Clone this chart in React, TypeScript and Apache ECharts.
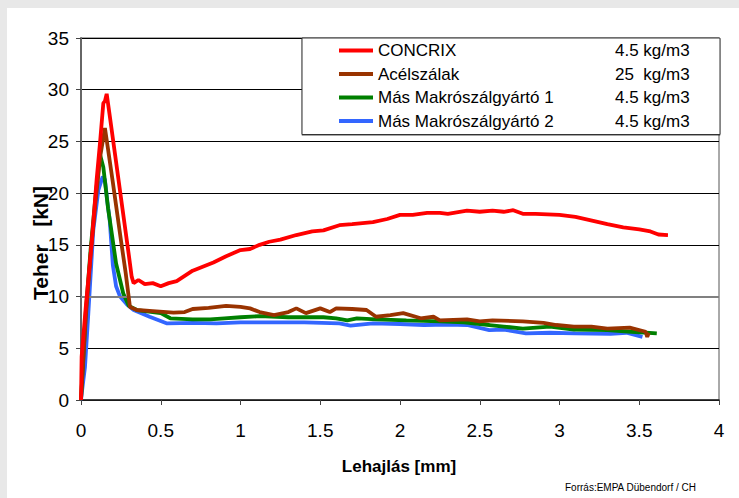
import React, { useEffect, useRef } from "react";
import * as echarts from "echarts";

const seriesNames = ["CONCRIX", "Acélszálak", "Más Makrószálgyártó 1", "Más Makrószálgyártó 2"];
const dosages = ["4.5 kg/m3", "25  kg/m3", "4.5 kg/m3", "4.5 kg/m3"];
const colors = ["#ff0000", "#993300", "#008000", "#3366ff"];
const xTicks = [0, 0.5, 1, 1.5, 2, 2.5, 3, 3.5, 4];
const yTicks = [0, 5, 10, 15, 20, 25, 30, 35];

const concrix: number[][] = [
  [0, 0], [0.004, 4.2], [0.03, 9], [0.067, 15.2], [0.098, 21.3], [0.12, 25], [0.14, 28.7], [0.15, 28.9],
  [0.161, 29.6], [0.18, 27.5], [0.22, 23], [0.26, 18.5], [0.3, 14], [0.318, 11.9], [0.33, 11.3], [0.36, 11.6],
  [0.4, 11.2], [0.45, 11.3], [0.5, 11.0], [0.55, 11.3], [0.6, 11.5], [0.65, 12.0], [0.7, 12.5], [0.83, 13.3],
  [0.91, 13.9], [1.0, 14.5], [1.06, 14.6], [1.12, 15.0], [1.18, 15.3], [1.25, 15.5], [1.35, 15.95], [1.45, 16.3],
  [1.52, 16.4], [1.62, 16.9], [1.7, 17.0], [1.83, 17.2], [1.92, 17.5], [2.0, 17.9], [2.08, 17.9], [2.17, 18.1],
  [2.25, 18.1], [2.3, 18.0], [2.42, 18.3], [2.5, 18.2], [2.58, 18.3], [2.65, 18.2], [2.71, 18.35], [2.77, 18.0],
  [2.85, 18.0], [3.0, 17.9], [3.1, 17.7], [3.19, 17.4], [3.3, 17.0], [3.4, 16.7], [3.5, 16.5], [3.57, 16.3],
  [3.62, 16.0], [3.68, 15.95],
];

const acelszalak: number[][] = [
  [0, 0], [0.03, 8], [0.06, 14], [0.09, 19], [0.12, 23.5], [0.15, 26.3], [0.17, 24.2], [0.2, 21], [0.25, 15.5],
  [0.28, 12.3], [0.307, 9.0], [0.35, 8.7], [0.45, 8.6], [0.58, 8.45], [0.65, 8.5], [0.7, 8.8], [0.8, 8.9],
  [0.91, 9.1], [1.0, 9.0], [1.06, 8.86], [1.12, 8.5], [1.21, 8.2], [1.3, 8.5], [1.35, 8.86], [1.41, 8.4],
  [1.5, 8.86], [1.56, 8.5], [1.6, 8.86], [1.7, 8.8], [1.79, 8.7], [1.85, 8.05], [1.94, 8.2], [2.02, 8.4],
  [2.13, 7.9], [2.21, 8.05], [2.25, 7.7], [2.42, 7.8], [2.5, 7.6], [2.58, 7.7], [2.77, 7.6], [2.9, 7.45],
  [2.98, 7.25], [3.09, 7.1], [3.2, 7.1], [3.3, 6.9], [3.44, 7.0], [3.54, 6.6], [3.55, 6.1], [3.56, 6.5],
];

const makro1: number[][] = [
  [0, 0], [0.03, 8.5], [0.06, 14.5], [0.09, 19.5], [0.12, 23.7], [0.14, 22.5], [0.17, 18.5], [0.19, 16.4],
  [0.22, 13.2], [0.265, 10.3], [0.3, 9.1], [0.35, 8.7], [0.5, 8.4], [0.56, 7.9], [0.7, 7.8], [0.81, 7.8],
  [0.9, 7.9], [1.0, 8.0], [1.12, 8.1], [1.3, 8.0], [1.52, 8.0], [1.6, 7.9], [1.67, 7.7], [1.73, 7.9],
  [1.85, 7.8], [2.04, 7.7], [2.25, 7.6], [2.4, 7.5], [2.56, 7.25], [2.65, 7.1], [2.77, 6.9], [2.94, 7.1],
  [3.09, 6.8], [3.3, 6.75], [3.45, 6.6], [3.61, 6.45],
];

const makro2: number[][] = [
  [0, 0], [0.005, 0.7], [0.025, 3.2], [0.046, 8.4], [0.077, 16.4], [0.109, 20.3], [0.136, 21.6], [0.15, 21.3],
  [0.165, 19.2], [0.18, 17.4], [0.2, 13], [0.22, 11.0], [0.245, 10.0], [0.29, 9.2], [0.33, 8.7], [0.43, 8.05],
  [0.54, 7.4], [0.7, 7.45], [0.85, 7.4], [1.0, 7.5], [1.2, 7.5], [1.4, 7.5], [1.62, 7.4], [1.69, 7.2],
  [1.83, 7.4], [2.0, 7.35], [2.15, 7.25], [2.3, 7.3], [2.42, 7.25], [2.56, 6.75], [2.65, 6.8], [2.79, 6.45],
  [2.94, 6.5], [3.1, 6.45], [3.32, 6.4], [3.42, 6.5], [3.52, 6.1],
];

const seriesData = [concrix, acelszalak, makro1, makro2];

const NARROW = "'Liberation Sans Narrow', 'Arial Narrow', 'Liberation Sans', Arial, sans-serif";
const SANS = "'Liberation Sans', Arial, sans-serif";

export default function App() {
  const ref = useRef<HTMLDivElement>(null);
  useEffect(() => {
    if (!ref.current) return;
    const chart = echarts.init(ref.current, undefined, { renderer: "svg" });
    const dosageByName: Record<string, string> = {};
    seriesNames.forEach((n, i) => (dosageByName[n] = dosages[i]));
    chart.setOption({
      animation: false,
      backgroundColor: "#ffffff",
      grid: { left: 81, right: 20, top: 38, bottom: 98, show: true, borderColor: "#555", borderWidth: 1, backgroundColor: "transparent" },
      xAxis: {
        type: "value",
        min: xTicks[0],
        max: xTicks[xTicks.length - 1],
        interval: 0.5,
        axisLine: { show: true, onZero: false, lineStyle: { color: "#222", width: 1.5 } },
        axisTick: { show: true, inside: false, length: 5, lineStyle: { color: "#444" } },
        axisLabel: { color: "#000", fontFamily: NARROW, fontSize: 19, margin: 21 },
        splitLine: { show: false },
      },
      yAxis: {
        type: "value",
        min: yTicks[0],
        max: yTicks[yTicks.length - 1],
        interval: 5,
        axisLine: { show: true, lineStyle: { color: "#666", width: 2 } },
        axisTick: { show: true, inside: false, length: 5, lineStyle: { color: "#444" } },
        axisLabel: { color: "#000", fontFamily: NARROW, fontSize: 19, margin: 12 },
        splitLine: { show: true, lineStyle: { color: "#000", width: 1 } },
      },
      legend: {
        data: seriesNames,
        orient: "vertical",
        left: 302,
        top: 38,
        padding: [4, 30, 5, 37],
        itemGap: 6.5,
        itemWidth: 34,
        itemHeight: 4,
        icon: "rect",
        backgroundColor: "#ffffff",
        borderColor: "#333",
        borderWidth: 1,
        shadowColor: "rgba(0,0,0,0.35)",
        shadowOffsetY: 1,
        shadowBlur: 1,
        z: 10,
        formatter: (name: string) => `{n|${name}}{d|${dosageByName[name]}}`,
        textStyle: {
          color: "#000",
          fontFamily: NARROW,
          fontSize: 17,
          rich: {
            n: { width: 237, fontFamily: NARROW, fontSize: 17, lineHeight: 20, color: "#000" },
            d: { width: 75, fontFamily: NARROW, fontSize: 17, lineHeight: 20, color: "#000" },
          },
        },
      },
      graphic: [
        { type: "rect", left: 0, top: 0, shape: { width: 739, height: 8 }, style: { fill: "#e8e8e8" }, silent: true },
        { type: "rect", left: 0, top: 0, shape: { width: 7, height: 498 }, style: { fill: "#e8e8e8" }, silent: true },
        {
          type: "text",
          x: 40,
          y: 243,
          rotation: Math.PI / 2,
          style: { text: "Teher   [kN]", fill: "#000", font: `bold 21px ${SANS}`, textAlign: "center", textVerticalAlign: "middle" },
        },
        {
          type: "text",
          x: 399,
          y: 466,
          style: { text: "Lehajlás [mm]", fill: "#000", font: `bold 17px ${SANS}`, textAlign: "center", textVerticalAlign: "middle" },
        },
        {
          type: "text",
          x: 565,
          y: 487,
          style: { text: "Forrás:EMPA Dübendorf / CH", fill: "#000", font: `10px ${NARROW}`, textAlign: "left", textVerticalAlign: "middle" },
        },
      ],
      series: [
        {
          type: "line",
          data: [],
          silent: true,
          z: 1,
          markLine: {
            silent: true,
            symbol: "none",
            label: { show: false },
            lineStyle: { color: "#808080", width: 2, type: "solid" },
            data: [{ yAxis: yTicks[2] }],
          },
        },
        ...seriesNames.map((name, i) => ({
          name,
          type: "line",
          data: seriesData[i],
          showSymbol: false,
          symbol: "none",
          z: 2 + (seriesNames.length - i),
          color: colors[i],
          lineStyle: { color: colors[i], width: 3.8 },
        })),
      ],
    });
    return () => chart.dispose();
  }, []);
  return (
    <div style={{ position: "fixed", left: 0, top: 0, width: 739, height: 498, background: "#fff" }}>
      <div ref={ref} style={{ width: 739, height: 498 }} />
    </div>
  );
}
